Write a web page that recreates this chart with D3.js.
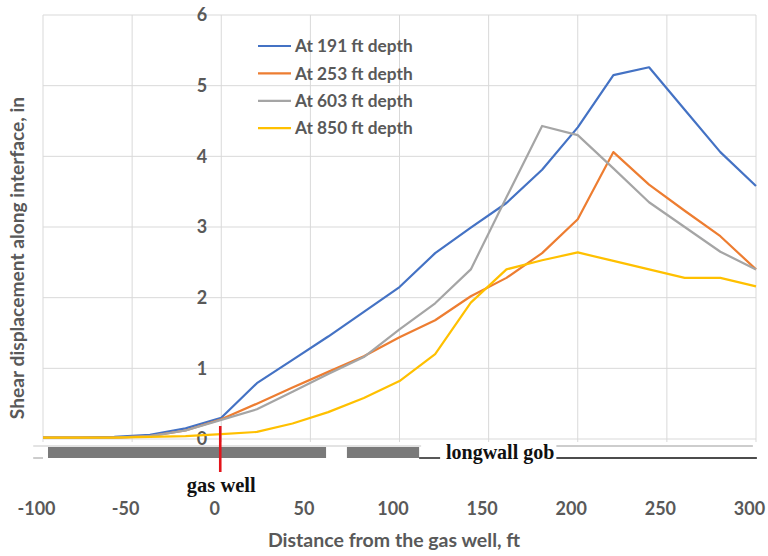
<!DOCTYPE html>
<html>
<head>
<meta charset="utf-8">
<script src="https://cdn.jsdelivr.net/npm/d3@7"></script>
<style>
  html, body { margin: 0; padding: 0; background: #fff; }
  svg { display: block; }
</style>
</head>
<body>
<svg id="chart" width="768" height="556"></svg>
<script>
// Distance from the gas well (ft) at which displacement was sampled
const distances = [-100, -80, -60, -40, -20, 0, 20, 40, 60, 80, 100, 120, 140, 160, 180, 200, 220, 240, 260, 280, 300];

// Shear displacement along the interface (in) for each monitored depth
const depth191 = [0.02, 0.02, 0.03, 0.06, 0.15, 0.30, 0.79, 1.12, 1.45, 1.80, 2.15, 2.63, 2.99, 3.34, 3.81, 4.41, 5.15, 5.26, 4.66, 4.06, 3.58];
const depth253 = [0.02, 0.02, 0.02, 0.04, 0.12, 0.28, 0.50, 0.73, 0.95, 1.17, 1.44, 1.68, 2.02, 2.28, 2.63, 3.11, 4.06, 3.60, 3.23, 2.87, 2.40];
const depth603 = [0.02, 0.02, 0.02, 0.04, 0.12, 0.27, 0.42, 0.67, 0.92, 1.16, 1.55, 1.92, 2.40, 3.42, 4.43, 4.30, 3.83, 3.35, 3.00, 2.65, 2.40];
const depth850 = [0.02, 0.02, 0.02, 0.03, 0.04, 0.07, 0.10, 0.22, 0.38, 0.58, 0.82, 1.20, 1.93, 2.40, 2.53, 2.64, 2.52, 2.40, 2.28, 2.28, 2.16];

const seriesNames = ["At 191 ft depth", "At 253 ft depth", "At 603 ft depth", "At 850 ft depth"];
const seriesValues = [depth191, depth253, depth603, depth850];
const seriesColors = ["#4472C4", "#ED7D31", "#A5A5A5", "#FFC000"];

const xTicks = [-100, -50, 0, 50, 100, 150, 200, 250, 300];
const yTicks = [0, 1, 2, 3, 4, 5, 6];

// Panel layout along the bottom (ft): chain pillar blocks and the gob
const pillarSpan = [-100, 111];
const entryGaps = [[-105, -97.2], [58.8, 70.5]];
const gobSpan = [188, 300.5];
const gasWellAt = 0;

const svg = d3.select("#chart");
const plot = { left: 43, right: 756, top: 15, bottom: 439 };

const x = d3.scaleLinear().domain([-100, 300]).range([plot.left, plot.right]);
const y = d3.scaleLinear().domain([0, 6]).range([plot.bottom, plot.top]);

const textGray = "#595959";
const gridGray = "#d9d9d9";
const sans = "Lato, 'Open Sans', sans-serif";
const serif = "'Liberation Serif', 'Times New Roman', serif";
const plain = d => String(d); // keeps an ASCII hyphen for negatives

// Gridlines
const grid = svg.append("g");
grid.selectAll("line.h").data(yTicks).join("line")
  .attr("x1", plot.left).attr("x2", plot.right)
  .attr("y1", d => y(d)).attr("y2", d => y(d))
  .attr("stroke", gridGray).attr("stroke-width", 1);
grid.selectAll("line.v").data(xTicks).join("line")
  .attr("x1", d => x(d)).attr("x2", d => x(d))
  .attr("y1", plot.top).attr("y2", plot.bottom + 3)
  .attr("stroke", gridGray).attr("stroke-width", 1);

// Y axis labels sit beside the vertical axis at x = 0
const yAxis = d3.axisLeft(y).tickValues(yTicks).tickSize(0).tickPadding(0).tickFormat(plain);
const yg = svg.append("g").attr("transform", `translate(${x(0) - 14},0)`).call(yAxis);
yg.select(".domain").remove();
yg.selectAll("text")
  .attr("fill", textGray).attr("font-size", 18).attr("font-weight", "bold")
  .style("font-family", sans);

// Series lines
const line = d3.line().x((d, i) => x(distances[i])).y(d => y(d));
svg.append("g").selectAll("path").data(seriesValues).join("path")
  .attr("d", d => line(d))
  .attr("fill", "none")
  .attr("stroke", (d, i) => seriesColors[i])
  .attr("stroke-width", 2.2)
  .attr("stroke-linejoin", "round");

// Legend
const legend = svg.append("g");
seriesNames.forEach((name, i) => {
  const ly = 46 + i * 27.4;
  legend.append("line")
    .attr("x1", 258).attr("x2", 291).attr("y1", ly).attr("y2", ly)
    .attr("stroke", seriesColors[i]).attr("stroke-width", 2.2);
  legend.append("text")
    .attr("x", 295).attr("y", ly).attr("dy", "0.36em")
    .attr("fill", textGray).attr("font-size", 17.3).attr("font-weight", "bold")
    .style("font-family", sans)
    .text(name);
});

// Bottom panel: pillars, entries and gob
const strip = svg.append("g");
const sTop = 447, sBot = 458;
strip.append("line")
  .attr("x1", x(-105.5)).attr("x2", x(pillarSpan[1]) + 2)
  .attr("y1", sTop - 1).attr("y2", sTop - 1)
  .attr("stroke", "#c8c8c8").attr("stroke-width", 1.2);
strip.append("rect")
  .attr("x", x(pillarSpan[0])).attr("y", sTop)
  .attr("width", x(pillarSpan[1]) - x(pillarSpan[0])).attr("height", sBot - sTop)
  .attr("fill", "#7a7a7a");
strip.selectAll("rect.gap").data(entryGaps).join("rect")
  .attr("x", d => x(d[0])).attr("y", sTop)
  .attr("width", d => x(d[1]) - x(d[0])).attr("height", sBot - sTop)
  .attr("fill", "#fff");
strip.append("line")
  .attr("x1", x(-105.5)).attr("x2", x(pillarSpan[0]))
  .attr("y1", sBot).attr("y2", sBot)
  .attr("stroke", "#9a9a9a").attr("stroke-width", 1);
strip.append("line")
  .attr("x1", x(pillarSpan[1])).attr("x2", x(pillarSpan[1]) + 21)
  .attr("y1", sBot).attr("y2", sBot)
  .attr("stroke", "#111").attr("stroke-width", 1.4);
strip.append("line")
  .attr("x1", x(gobSpan[0])).attr("x2", x(gobSpan[1]) - 4)
  .attr("y1", sTop - 1).attr("y2", sTop - 1)
  .attr("stroke", "#bdbdbd").attr("stroke-width", 1.4);
strip.append("line")
  .attr("x1", x(gobSpan[0])).attr("x2", x(gobSpan[1]))
  .attr("y1", sBot).attr("y2", sBot)
  .attr("stroke", "#111").attr("stroke-width", 1.4);
strip.append("text")
  .attr("x", x(gobSpan[0]) - 2).attr("y", sBot + 1)
  .attr("text-anchor", "end")
  .style("font-family", serif)
  .attr("font-weight", "bold").attr("font-size", 20).attr("fill", "#111")
  .text("longwall gob");

// Gas well marker
svg.append("line")
  .attr("x1", x(gasWellAt) - 1).attr("x2", x(gasWellAt) - 1)
  .attr("y1", 426).attr("y2", 472)
  .attr("stroke", "#e3141b").attr("stroke-width", 2.6);
svg.append("text")
  .attr("x", x(gasWellAt)).attr("y", 492)
  .attr("text-anchor", "middle")
  .style("font-family", serif)
  .attr("font-weight", "bold").attr("font-size", 20.5).attr("fill", "#111")
  .text("gas well");

// X axis labels
const xAxis = d3.axisBottom(x).tickValues(xTicks).tickSize(0).tickPadding(0).tickFormat(plain);
const xg = svg.append("g").attr("transform", "translate(-7,502)").call(xAxis);
xg.select(".domain").remove();
xg.selectAll("text")
  .attr("fill", textGray).attr("font-size", 18).attr("font-weight", "bold")
  .style("font-family", sans);

// Axis titles
svg.append("text")
  .attr("x", 394).attr("y", 547)
  .attr("text-anchor", "middle")
  .attr("fill", textGray).attr("font-size", 19.5).attr("font-weight", "bold")
  .style("font-family", sans)
  .text("Distance from the gas well, ft");
svg.append("text")
  .attr("transform", "translate(24,258) rotate(-90)")
  .attr("text-anchor", "middle")
  .attr("fill", textGray).attr("font-size", 19.2).attr("font-weight", "bold")
  .style("font-family", sans)
  .text("Shear displacement along interface, in");
</script>
</body>
</html>
